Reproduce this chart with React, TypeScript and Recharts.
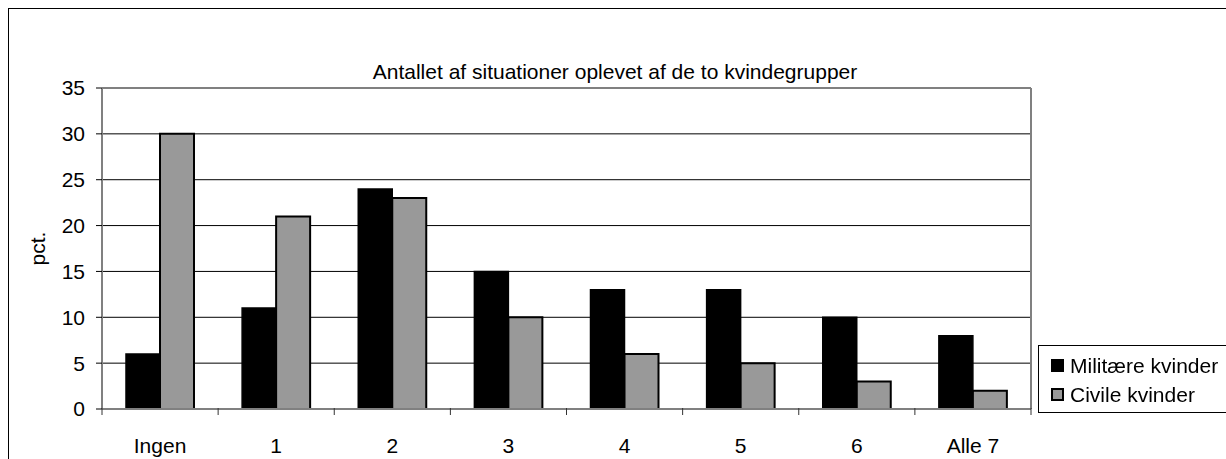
import { Bar, BarChart, CartesianGrid, XAxis, YAxis } from "recharts";

const categories = ["Ingen", "1", "2", "3", "4", "5", "6", "Alle 7"];
const militaere = [6, 11, 24, 15, 13, 13, 10, 8];
const civile = [30, 21, 23, 10, 6, 5, 3, 2];
const yTicks = [0, 5, 10, 15, 20, 25, 30, 35];

const seriesNames = { militaere: "Militære kvinder", civile: "Civile kvinder" };
const title = "Antallet af situationer oplevet af de to kvindegrupper";

const data = categories.map((c, i) => ({
  name: c,
  militaere: militaere[i],
  civile: civile[i],
}));

const FONT = '"Liberation Sans", Arial, sans-serif';
const GREY_AXIS = "#808080";
const BAR_GREY = "#999999";

const CHART_W = 1217;
const CHART_H = 450;
const MARGIN = { top: 78, right: 194, bottom: 49, left: 0 };
const Y_W = 93;
const Y_R_W = 1;
const BAND = (CHART_W - MARGIN.left - MARGIN.right - Y_W - Y_R_W) / categories.length;

// category label plus tick marks on the band edges (Excel style)
function CategoryTick(props: any) {
  const { x, y, payload, index } = props;
  const left = x - BAND / 2;
  const right = x + BAND / 2;
  return (
    <g>
      <line x1={left} y1={y - 1} x2={left} y2={y + 6} stroke="#333" strokeWidth={1} />
      {index === categories.length - 1 && (
        <line x1={right} y1={y - 1} x2={right} y2={y + 6} stroke="#333" strokeWidth={1} />
      )}
      <text x={x} y={y + 29} dy="0.71em" textAnchor="middle" fill="#000" fontSize={21} fontFamily={FONT}>
        {payload.value}
      </text>
    </g>
  );
}

export default function App() {
  return (
    <div
      style={{
        position: "fixed",
        left: 8,
        top: 8,
        width: 1240,
        height: 470,
        border: "1px solid #000",
        background: "#fff",
        fontFamily: FONT,
        color: "#000",
      }}
    >
      <div
        style={{
          position: "absolute",
          left: 0,
          top: 52,
          width: 1212,
          textAlign: "center",
          fontSize: 21,
          lineHeight: "21px",
          whiteSpace: "nowrap",
        }}
      >
        {title}
      </div>

      <div style={{ position: "absolute", left: 0, top: 0 }}>
        <BarChart
          width={CHART_W}
          height={CHART_H}
          data={data}
          margin={MARGIN}
          barCategoryGap={24}
          barGap={0}
        >
          <CartesianGrid horizontal vertical={false} stroke="#000" strokeWidth={1} />
          <XAxis
            dataKey="name"
            height={1}
            axisLine={{ stroke: GREY_AXIS, strokeWidth: 2 }}
            tickLine={false}
            tickSize={0}
            tickMargin={0}
            interval={0}
            tick={<CategoryTick />}
          />
          <XAxis
            xAxisId="t"
            orientation="top"
            type="number"
            domain={[0, 1]}
            height={1}
            tick={false}
            tickLine={false}
            axisLine={{ stroke: GREY_AXIS, strokeWidth: 2 }}
          />
          <YAxis
            domain={[0, 35]}
            ticks={yTicks}
            width={Y_W}
            interval={0}
            axisLine={{ stroke: GREY_AXIS, strokeWidth: 2 }}
            tickLine={{ stroke: "#000" }}
            tickSize={6}
            tickMargin={11}
            tick={{ fill: "#000", fontSize: 21, fontFamily: FONT }}
            label={{
              value: "pct.",
              angle: -90,
              position: "insideLeft",
              offset: 29,
              style: { textAnchor: "middle", fill: "#000", fontSize: 21, fontFamily: FONT },
            }}
          />
          <YAxis
            yAxisId="r"
            orientation="right"
            domain={[0, 35]}
            width={Y_R_W}
            tick={false}
            tickLine={false}
            axisLine={{ stroke: GREY_AXIS, strokeWidth: 2 }}
          />
          <Bar
            dataKey="militaere"
            name={seriesNames.militaere}
            fill="#000"
            stroke="#000"
            strokeWidth={1.5}
            isAnimationActive={false}
          />
          <Bar
            dataKey="civile"
            name={seriesNames.civile}
            fill={BAR_GREY}
            stroke="#000"
            strokeWidth={2}
            isAnimationActive={false}
          />
        </BarChart>
      </div>

      <div
        style={{
          position: "absolute",
          left: 1029,
          top: 336,
          width: 220,
          height: 61,
          border: "1px solid #000",
          paddingTop: 5,
          boxSizing: "content-box",
          fontSize: 21,
          whiteSpace: "nowrap",
        }}
      >
        {[
          { name: seriesNames.militaere, fill: "#000" },
          { name: seriesNames.civile, fill: BAR_GREY },
        ].map((item) => (
          <div key={item.name} style={{ display: "flex", alignItems: "center", height: 29, paddingLeft: 12 }}>
            <span
              style={{
                display: "inline-block",
                width: 13,
                height: 13,
                boxSizing: "border-box",
                background: item.fill,
                border: "2px solid #000",
                marginRight: 6,
              }}
            />
            <span style={{ lineHeight: "21px" }}>{item.name}</span>
          </div>
        ))}
      </div>
    </div>
  );
}
